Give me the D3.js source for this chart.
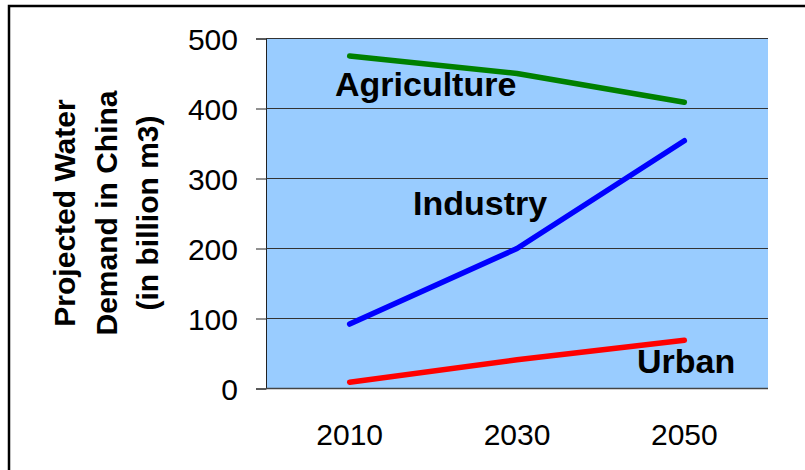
<!DOCTYPE html>
<html lang="en">
<head>
<meta charset="utf-8">
<script src="https://d3js.org/d3.v7.min.js"></script>
<style>
  body { margin: 0; background: #fff; }
  svg text { font-family: "Liberation Sans", Arial, sans-serif; }
</style>
</head>
<body>
<script>
// chart values
var years = ["2010", "2030", "2050"];
var agriculture = [475, 450, 409];
var industry = [92, 200, 354];
var urban = [9, 41, 69];
var yTicks = [0, 100, 200, 300, 400, 500];
var seriesNames = ["Agriculture", "Industry", "Urban"];
var titleLines = ["Projected Water", "Demand in China", "(in billion m3)"];

var width = 805, height = 470;
// note: "top" is a reserved window property, so use plot* names
var plotLeft = 266, plotRight = 768, plotTop = 38.5, plotBottom = 388.5;

var svg = d3.select("body").append("svg")
    .attr("width", width)
    .attr("height", height);

// outer frame (only left and top edges fall inside the window)
svg.append("rect")
    .attr("x", 9).attr("y", 6)
    .attr("width", 900).attr("height", 600)
    .attr("fill", "none")
    .attr("stroke", "#000")
    .attr("stroke-width", 2.5);

var x = d3.scalePoint().domain(years).range([plotLeft, plotRight]).padding(0.5);
var y = d3.scaleLinear().domain([0, 500]).range([plotBottom, plotTop]);

// plot background
svg.append("rect")
    .attr("x", plotLeft).attr("y", plotTop)
    .attr("width", plotRight - plotLeft).attr("height", plotBottom - plotTop)
    .attr("fill", "#99CCFF");

// y axis with gridlines
var yAxis = svg.append("g")
    .attr("transform", "translate(" + plotLeft + ",0)")
    .call(d3.axisLeft(y).tickValues(yTicks).tickSize(10).tickPadding(18));
yAxis.select(".domain").attr("stroke", "#222");
yAxis.selectAll(".tick line").attr("stroke", "#222");
yAxis.selectAll(".tick text")
    .attr("font-size", 30)
    .attr("fill", "#000")
    .attr("dy", "0.36em");

svg.append("g").selectAll("line")
    .data(yTicks)
    .enter().append("line")
    .attr("x1", plotLeft).attr("x2", plotRight)
    .attr("y1", function(d) { return y(d); })
    .attr("y2", function(d) { return y(d); })
    .attr("stroke", function(d) { return d === 0 ? "#444" : "#333"; })
    .attr("stroke-width", function(d) { return d === 0 ? 1.5 : 1; });

// x labels
svg.append("g").selectAll("text")
    .data(years)
    .enter().append("text")
    .attr("x", function(d) { return x(d); })
    .attr("y", 445)
    .attr("text-anchor", "middle")
    .attr("font-size", 30)
    .text(function(d) { return d; });

// series lines
var series = [
    { name: seriesNames[0], values: agriculture, color: "#008000" },
    { name: seriesNames[1], values: industry, color: "#0000FF" },
    { name: seriesNames[2], values: urban, color: "#FF0000" }
];

var line = d3.line()
    .x(function(d, i) { return x(years[i]); })
    .y(function(d) { return y(d); });

svg.append("g").selectAll("path")
    .data(series)
    .enter().append("path")
    .attr("d", function(d) { return line(d.values); })
    .attr("fill", "none")
    .attr("stroke", function(d) { return d.color; })
    .attr("stroke-width", 5.5)
    .attr("stroke-linecap", "round")
    .attr("stroke-linejoin", "round");

// series labels
var labelPos = [[335, 96], [413, 215], [637, 373]];
svg.append("g").selectAll("text")
    .data(series)
    .enter().append("text")
    .attr("x", function(d, i) { return labelPos[i][0]; })
    .attr("y", function(d, i) { return labelPos[i][1]; })
    .attr("font-size", 34)
    .attr("font-weight", "bold")
    .text(function(d) { return d.name; });

// y title
var title = svg.append("text")
    .attr("transform", "translate(75,213) rotate(-90)")
    .attr("text-anchor", "middle")
    .attr("font-size", 30)
    .attr("font-weight", "bold");
title.selectAll("tspan")
    .data(titleLines)
    .enter().append("tspan")
    .attr("x", 0)
    .attr("y", function(d, i) { return i * 41.5; })
    .text(function(d) { return d; });
</script>
</body>
</html>
